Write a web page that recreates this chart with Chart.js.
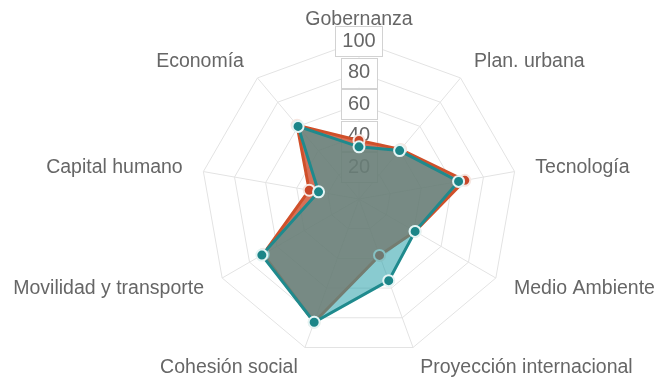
<!DOCTYPE html>
<html>
<head>
<meta charset="utf-8">
<script src="https://cdn.jsdelivr.net/npm/chart.js@4.4.1/dist/chart.umd.min.js"></script>
<style>
  html, body { margin: 0; padding: 0; background: #fff; }
  #wrap { width: 658px; height: 381px; position: relative; }
</style>
</head>
<body>
<div id="wrap"><canvas id="radar"></canvas></div>
<script>
const dimensiones = ['Gobernanza', 'Plan. urbana', 'Tecnología', 'Medio Ambiente', 'Proyección internacional',
                     'Cohesión social', 'Movilidad y transporte', 'Capital humano', 'Economía'];
const ciudad     = [33, 40, 64, 41, 55, 83, 71, 26, 60];
const referencia = [37, 41, 68, 41, 38, 83, 70, 32, 61];
const escala     = [0, 20, 40, 60, 80, 100];

const FONT = "'Liberation Sans', Arial, sans-serif";
const TICK_SIZE = 20;
const TICK_PAD = { x: 7, y: 5 };
const LABEL_SIZE = 19.5;
const LABEL_GAP = 21;

// thin frame round each tick label backdrop
const tickFrames = {
    id: 'tickFrames',
    beforeDatasetsDraw(chart) {
        const scale = chart.scales.r;
        const ctx = chart.ctx;
        ctx.save();
        ctx.font = TICK_SIZE + 'px ' + FONT;
        ctx.strokeStyle = '#d2d2d2';
        ctx.lineWidth = 1;
        scale.ticks.forEach((tick, i) => {
            if (i === 0) return;
            const off = scale.getDistanceFromCenterForValue(tick.value);
            const w = ctx.measureText(tick.label).width;
            const x = Math.round(scale.xCenter - w / 2 - TICK_PAD.x) + 0.5;
            const y = Math.round(scale.yCenter - off - TICK_SIZE / 2 - TICK_PAD.y) + 0.5;
            ctx.strokeRect(x, y, Math.round(w + TICK_PAD.x * 2), TICK_SIZE + TICK_PAD.y * 2);
        });
        ctx.restore();
    }
};

// axis names, centred on their spoke just outside the outer ring
const axisNames = {
    id: 'axisNames',
    beforeDatasetsDraw(chart) {
        const scale = chart.scales.r;
        const ctx = chart.ctx;
        const dist = scale.drawingArea + LABEL_GAP;
        ctx.save();
        ctx.font = LABEL_SIZE + 'px ' + FONT;
        ctx.fillStyle = '#666';
        ctx.textBaseline = 'middle';
        chart.data.labels.forEach((name, i) => {
            const pos = scale.getPointPosition(i, dist);
            const deg = Math.round(scale.getIndexAngle(i) * 180 / Math.PI) % 360;
            ctx.textAlign = (deg === 0 || deg === 180) ? 'center' : (deg < 180 ? 'left' : 'right');
            ctx.fillText(name, pos.x, pos.y);
        });
        ctx.restore();
    }
};

const ctx = document.getElementById('radar');

new Chart(ctx, {
    type: 'radar',
    data: {
        labels: dimensiones,
        datasets: [{
            label: 'Ciudad',
            data: ciudad,
            borderColor: '#1f8a8d',
            backgroundColor: 'rgba(40, 160, 170, 0.55)',
            borderWidth: 3,
            pointBackgroundColor: '#1b8588',
            pointBorderColor: '#e4f4f4',
            pointBorderWidth: 2,
            pointRadius: 5.5,
            fill: true
        }, {
            label: 'Referencia',
            data: referencia,
            borderColor: '#d0502a',
            backgroundColor: 'rgba(204, 72, 40, 0.78)',
            borderWidth: 3,
            pointBackgroundColor: '#c8482a',
            pointBorderColor: '#f6e6e0',
            pointBorderWidth: 2,
            pointRadius: 5.5,
            fill: true
        }]
    },
    options: {
        responsive: true,
        maintainAspectRatio: false,
        animation: false,
        layout: {
            padding: { left: 60, right: 0, top: 26, bottom: 9 }
        },
        plugins: {
            legend: { display: false },
            tooltip: { enabled: false }
        },
        scales: {
            r: {
                min: escala[0],
                max: escala[escala.length - 1],
                grid: { color: '#e3e3e3' },
                angleLines: { color: '#e3e3e3' },
                ticks: {
                    stepSize: escala[1] - escala[0],
                    color: '#666',
                    font: { family: FONT, size: TICK_SIZE },
                    backdropColor: '#fff',
                    backdropPadding: TICK_PAD
                },
                pointLabels: { display: false }
            }
        }
    },
    plugins: [tickFrames, axisNames]
});
</script>
</body>
</html>
